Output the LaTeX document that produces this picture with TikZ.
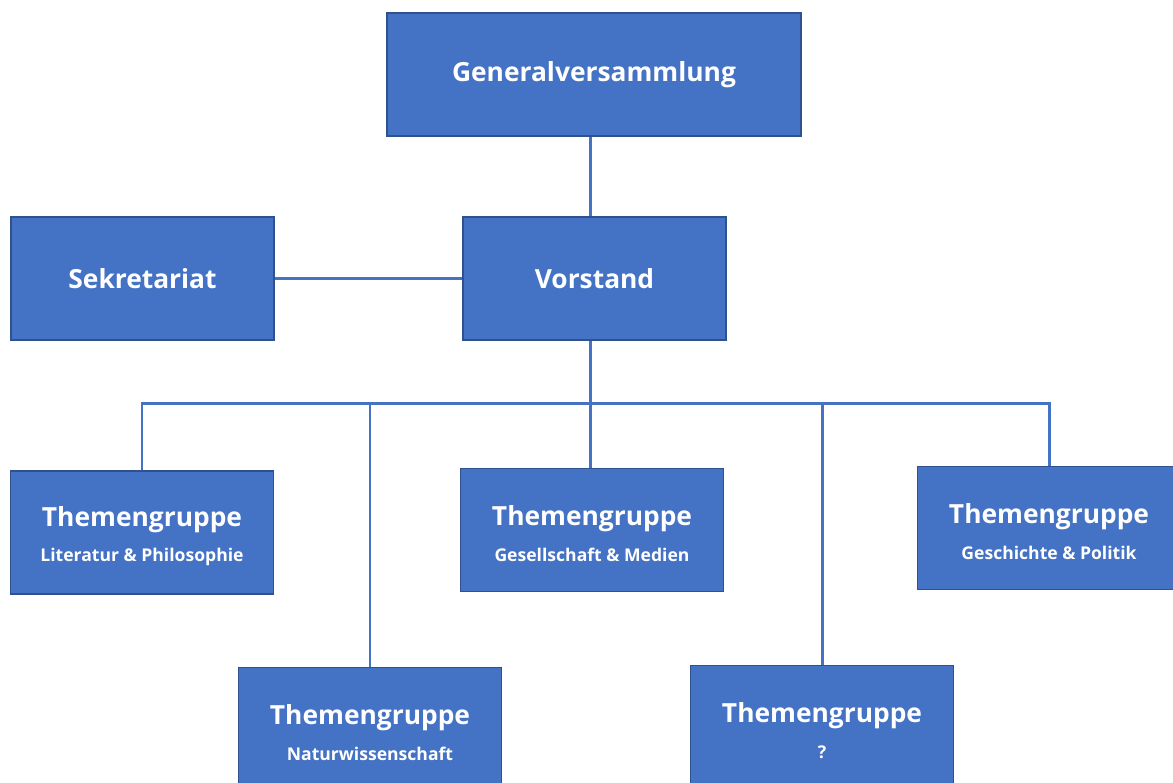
\documentclass[tikz,border=0pt]{standalone}
\usepackage{fontspec}
\setmainfont{Open Sans}
\definecolor{boxfill}{RGB}{68,114,196}
\definecolor{boxline}{RGB}{47,82,143}
\tikzset{
  orgbox/.style={draw=boxline, fill=boxfill, line width=1pt, text=white,
    font=\bfseries\fontsize{15}{18}\selectfont, align=center, inner sep=0pt,
    minimum width=5.26cm, minimum height=2.46cm},
  link/.style={draw=boxfill, line width=1.7pt}
}
\newcommand{\themen}[1]{\rule{0pt}{15.5pt}Themengruppe\\[2pt]{\fontsize{10}{12}\selectfont #1}}

\begin{document}
\begin{tikzpicture}[x=0.02cm,y=-0.02cm]
\useasboundingbox (0,0) rectangle (1173,783);
\clip (0,0) rectangle (1173,783);
% boxes
\node[orgbox, minimum width=8.28cm] (gv) at (594,74.5) {Generalversammlung};
\node[orgbox] (sek) at (142.5,278.5) {Sekretariat};
\node[orgbox] (vor) at (594.5,278.5) {Vorstand};
\node[orgbox] (lit) at (142,532.5) {\themen{Literatur \& Philosophie}};
\node[orgbox] (ges) at (592,530) {\themen{Gesellschaft \& Medien}};
\node[orgbox] (gp) at (1049,528) {\themen{Geschichte \& Politik}};
\node[orgbox] (nat) at (370,729) {\themen{Naturwissenschaft}};
\node[orgbox] (q) at (822,727) {\themen{?}};
% lines
\coordinate (bus) at (590,403.5);
\draw[link] (gv.south -| bus) -- (vor.north -| bus);
\draw[link] (sek.east) -- (vor.west);
\draw[link] (vor.south -| bus) -- (bus) -- (bus |- ges.north);
\draw[link] (lit.north) |- (bus) -| (gp.north);
\draw[link] (bus -| nat.north) -- (nat.north);
\draw[link] (bus -| q.north) -- (q.north);
\end{tikzpicture}
\end{document}
